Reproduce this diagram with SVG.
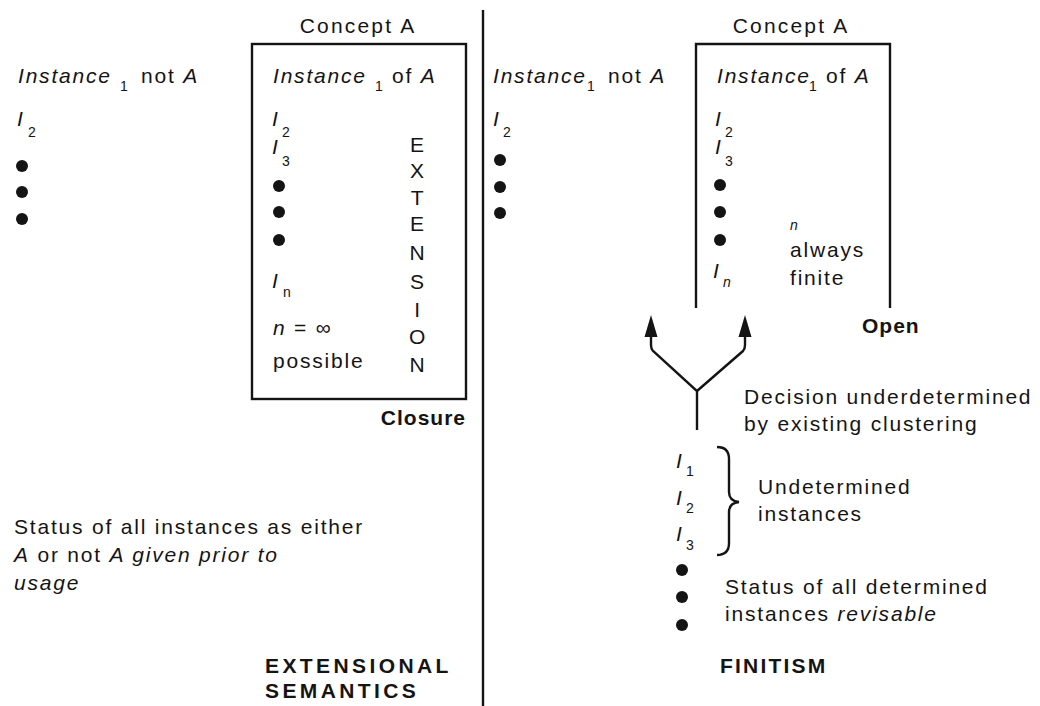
<svg xmlns="http://www.w3.org/2000/svg" width="1040" height="706" viewBox="0 0 1040 706">
<style>
text{font-family:"Liberation Sans",Arial,sans-serif;font-size:21px;fill:#141414;letter-spacing:1.8px}
.i{font-style:italic}
.b{font-weight:bold;letter-spacing:2.2px}
.s{font-size:14px;font-style:normal;letter-spacing:0}
.ln{fill:none;stroke:#141414;stroke-width:2.4}
.dot{fill:#141414}
</style>
<defs>
<marker id="arr" markerUnits="userSpaceOnUse" markerWidth="24" markerHeight="16" viewBox="0 0 24 16" refX="1" refY="8" orient="auto">
<path d="M0,1.5 L22,8 L0,14.5 Z" fill="#141414"/>
</marker>
</defs>
<rect width="1040" height="706" fill="#fff"/>

<g id="divider"><line class="ln" x1="483" y1="10" x2="483" y2="706" stroke-width="2.6"/></g>

<g id="left-outside">
<text x="18" y="83" class="i">Instance</text>
<text x="120" y="91" class="s">1</text>
<text x="141" y="83">not <tspan class="i">A</tspan></text>
<text x="17" y="126" class="i">I</text><text x="28" y="137" class="s">2</text>
<circle class="dot" cx="22" cy="166" r="6"/>
<circle class="dot" cx="22" cy="192" r="6"/>
<circle class="dot" cx="22" cy="219" r="6"/>
</g>

<g id="concept-a-closed">
<text x="358" y="33" text-anchor="middle" style="letter-spacing:2.2px">Concept A</text>
<rect class="ln" x="252" y="44" width="214" height="355"/>
<text x="273" y="83" class="i">Instance</text>
<text x="375" y="91" class="s">1</text>
<text x="392" y="83">of <tspan class="i">A</tspan></text>
<text x="272" y="126" class="i">I</text><text x="282" y="137" class="s">2</text>
<text x="272" y="154" class="i">I</text><text x="282" y="166" class="s">3</text>
<circle class="dot" cx="279" cy="186" r="6"/>
<circle class="dot" cx="279" cy="212" r="6"/>
<circle class="dot" cx="279" cy="240" r="6"/>
<text x="272" y="288" class="i">I</text><text x="283" y="297" class="s">n</text>
<text x="273" y="335"><tspan class="i">n</tspan> = ∞</text>
<text x="273" y="368">possible</text>
<g text-anchor="middle">
<text x="418" y="152">E</text>
<text x="418" y="178">X</text>
<text x="418" y="205">T</text>
<text x="418" y="231">E</text>
<text x="418" y="260">N</text>
<text x="418" y="289">S</text>
<text x="418" y="317">I</text>
<text x="418" y="344">O</text>
<text x="418" y="372">N</text>
</g>
<text x="466" y="425" class="b" text-anchor="end" style="letter-spacing:1px">Closure</text>
</g>

<g id="extensional-note">
<text x="14" y="534">Status of all instances as either</text>
<text x="14" y="562"><tspan class="i">A</tspan> or not <tspan class="i">A given prior to</tspan></text>
<text x="14" y="590" class="i">usage</text>
</g>
<g id="extensional-title">
<text x="265" y="673" class="b" style="letter-spacing:3.4px">EXTENSIONAL</text>
<text x="265" y="698" class="b" style="letter-spacing:3.4px">SEMANTICS</text>
</g>

<g id="right-outside">
<text x="493" y="83" class="i">Instance</text>
<text x="587" y="91" class="s">1</text>
<text x="608" y="83">not <tspan class="i">A</tspan></text>
<text x="493" y="126" class="i">I</text><text x="503" y="137" class="s">2</text>
<circle class="dot" cx="500" cy="160" r="6"/>
<circle class="dot" cx="500" cy="187" r="6"/>
<circle class="dot" cx="500" cy="213" r="6"/>
</g>

<g id="concept-a-open">
<text x="791" y="33" text-anchor="middle" style="letter-spacing:2.2px">Concept A</text>
<path class="ln" d="M696,308 V44 H890 V308"/>
<text x="717" y="83" class="i">Instance</text>
<text x="809" y="91" class="s">1</text>
<text x="826" y="83">of <tspan class="i">A</tspan></text>
<text x="715" y="126" class="i">I</text><text x="725" y="137" class="s">2</text>
<text x="715" y="154" class="i">I</text><text x="725" y="166" class="s">3</text>
<circle class="dot" cx="720" cy="185" r="6"/>
<circle class="dot" cx="720" cy="212" r="6"/>
<circle class="dot" cx="720" cy="240" r="6"/>
<text x="713" y="278" class="i">I</text><text x="723" y="287" class="s" style="font-style:italic">n</text>
<text x="790" y="230" class="s" style="font-style:italic">n</text>
<text x="790" y="257">always</text>
<text x="790" y="285">finite</text>
<text x="862" y="333" class="b" style="letter-spacing:1px">Open</text>
</g>

<g id="connectors">
<path class="ln" d="M697,430 V391 L653,351 Q651,349 651,345 V336" marker-end="url(#arr)"/>
<path class="ln" d="M697,391 L743,351 Q745,349 745,345 V336" marker-end="url(#arr)"/>
</g>

<g id="decision-note">
<text x="744" y="404">Decision underdetermined</text>
<text x="744" y="431">by existing clustering</text>
</g>

<g id="undetermined">
<text x="676" y="468" class="i">I</text><text x="686" y="476" class="s">1</text>
<text x="676" y="505" class="i">I</text><text x="686" y="513" class="s">2</text>
<text x="676" y="541" class="i">I</text><text x="686" y="550" class="s">3</text>
<path class="ln" stroke-width="2" d="M717,447 Q729,447 729,459 V492 Q729,501 739,502 Q729,503 729,512 V543 Q729,555 717,555"/>
<text x="758" y="494">Undetermined</text>
<text x="758" y="521">instances</text>
<circle class="dot" cx="682" cy="570" r="6"/>
<circle class="dot" cx="682" cy="597" r="6"/>
<circle class="dot" cx="682" cy="625" r="6"/>
<text x="725" y="594">Status of all determined</text>
<text x="725" y="621">instances <tspan class="i">revisable</tspan></text>
</g>
<g id="finitism-title">
<text x="720" y="673" class="b">FINITISM</text>
</g>
</svg>
